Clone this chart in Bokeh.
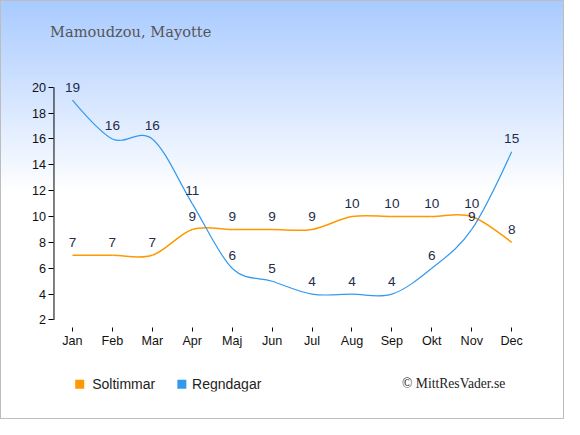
from bokeh.plotting import figure
from bokeh.models import Range1d, FixedTicker, Label
from bokeh.core.properties import value
from bokeh.embed import file_html
from bokeh.resources import INLINE

# ---- data ----
months = ["Jan", "Feb", "Mar", "Apr", "Maj", "Jun", "Jul", "Aug", "Sep", "Okt", "Nov", "Dec"]
soltimmar = [7, 7, 7, 9, 9, 9, 9, 10, 10, 10, 10, 8]
regndagar = [19, 16, 16, 11, 6, 5, 4, 4, 4, 6, 9, 15]
y_ticks = [2, 4, 6, 8, 10, 12, 14, 16, 18, 20]
title_text = "Mamoudzou, Mayotte"
series_names = ["Soltimmar", "Regndagar"]
credit_text = "\u00a9 MittResVader.se"

ORANGE = "#ff9900"
BLUE = "#3399ee"
LABEL_COLOR = "#1f2d4a"

# ---- layout ----
W, H = 564, 419
SX, SY = W / 580.0, H / 435.0
REF_X0, REF_DX = 74.0, 41.06        # reference px of Jan, px per month
REF_Y2, REF_DY = 331.7, 13.428      # reference px of value 2, px per unit
PXX, PXY = SX * REF_DX, SY * REF_DY
FL, FR, FT, FB = 30, W - 8, 8, H - 28

def dx(ref_px):
    return (ref_px - REF_X0) / REF_DX

def dy(ref_py):
    return 2 + (REF_Y2 - ref_py) / REF_DY

x_start = (FL / SX - REF_X0) / REF_DX
x_end = (FR / SX - REF_X0) / REF_DX
y_start = dy(FB / SY)
y_end = dy(FT / SY)

p = figure(width=W, height=H, output_backend="svg", toolbar_location=None,
           x_range=Range1d(x_start, x_end), y_range=Range1d(y_start, y_end),
           min_border_left=FL, min_border_right=W - FR,
           min_border_top=FT, min_border_bottom=H - FB)
p.background_fill_color = None
p.border_fill_color = None
p.outline_line_color = None
p.grid.visible = False
p.styles = {"background": "linear-gradient(to bottom, #a8caff 0%, #ffffff 46%, #ffffff 100%)",
            "box-shadow": "inset 0 0 0 1px #bdbdbd"}

# axes (placed at fixed locations inside the frame)
xa = p.xaxis[0]
xa.fixed_location = dy(340)
xa.ticker = FixedTicker(ticks=list(range(len(months))))
xa.major_label_overrides = {i: m for i, m in enumerate(months)}
xa.axis_line_color = None
xa.major_tick_in = 0
xa.major_tick_out = 4
xa.minor_tick_line_color = None
xa.major_tick_line_color = "#000000"
xa.major_label_standoff = 2
xa.major_label_text_font = "Liberation Sans"
xa.major_label_text_font_size = "12.6px"
xa.major_label_text_color = "#111111"

ya = p.yaxis[0]
ya.fixed_location = dx(55)
ya.ticker = FixedTicker(ticks=y_ticks)
ya.axis_line_color = None
ya.major_tick_in = 0
ya.major_tick_out = 5
ya.minor_tick_line_color = None
ya.major_tick_line_color = "#000000"
ya.major_label_standoff = 3
ya.major_label_text_font = "Liberation Sans"
ya.major_label_text_font_size = "12.6px"
ya.major_label_text_color = "#111111"

# y axis line from first to last tick
p.segment(x0=[dx(55)], y0=[y_ticks[0]], x1=[dx(55)], y1=[y_ticks[-1]],
          line_color="#000000", line_width=1)

# smooth curves (cardinal spline -> bezier control points from the data)
def bez(vals):
    n = len(vals)
    xs = list(range(n))
    x0, y0, x1, y1, cx0, cy0, cx1, cy1 = [], [], [], [], [], [], [], []
    for i in range(n - 1):
        x0.append(xs[i]); y0.append(vals[i])
        x1.append(xs[i + 1]); y1.append(vals[i + 1])
        if i == 0:
            cx0.append(xs[i]); cy0.append(vals[i])
        else:
            cx0.append(xs[i] + 1 / 3); cy0.append(vals[i] + (vals[i + 1] - vals[i - 1]) / 6)
        if i + 1 == n - 1:
            cx1.append(xs[i + 1]); cy1.append(vals[i + 1])
        else:
            cx1.append(xs[i + 1] - 1 / 3); cy1.append(vals[i + 1] - (vals[i + 2] - vals[i]) / 6)
    return dict(x0=x0, y0=y0, x1=x1, y1=y1, cx0=cx0, cy0=cy0, cx1=cx1, cy1=cy1)

p.bezier(line_color=ORANGE, line_width=1.5, **bez(soltimmar))
p.bezier(line_color=BLUE, line_width=1.2, **bez(regndagar))

# value labels
xs = list(range(len(months)))
for vals in (soltimmar, regndagar):
    p.text(x=xs, y=vals, text=[str(v) for v in vals], text_align="center",
           text_baseline="middle", y_offset=-13.5 * SY, text_font=value("Liberation Sans"),
           text_font_size="13.6px", text_color=LABEL_COLOR)

# title
p.add_layout(Label(x=dx(51), y=dy(32), text=title_text, text_font="DejaVu Serif",
                   text_font_size="14.6px", text_color="#555555", text_align="left",
                   text_baseline="middle"))

# credit
p.add_layout(Label(x=dx(413), y=dy(398), text=credit_text, text_font="Liberation Serif",
                   text_font_size="13.6px", text_color="#222222", text_align="left",
                   text_baseline="middle"))

# legend (squares + names)
p.scatter(x=[dx(81.5), dx(186.5)], y=[dy(398.5), dy(398.5)], marker="square", size=9,
          fill_color=[ORANGE, BLUE], line_color=None)
p.text(x=[dx(94.3), dx(197)], y=[dy(398), dy(398)], text=series_names,
       text_align="left", text_baseline="middle", text_font=value("Liberation Sans"),
       text_font_size="14px", text_color="#222222")

open("out.html", "w").write(file_html(p, INLINE))
